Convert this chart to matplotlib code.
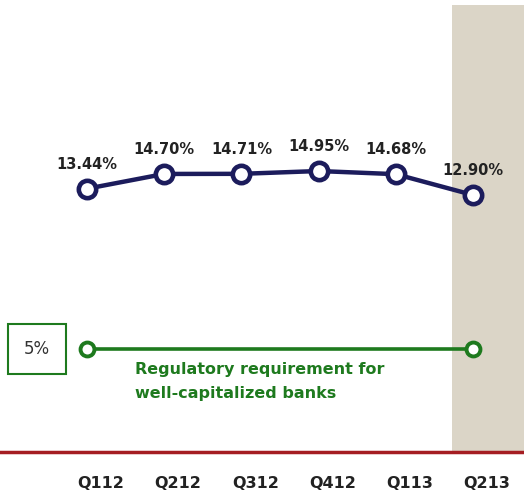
"""
Tier 1 capital ratio by quarter vs. regulatory requirement.
"""

import matplotlib
matplotlib.use("Agg")
import matplotlib.pyplot as plt
import numpy as np

# Datos
trimestres = ["Q112", "Q212", "Q312", "Q412", "Q113", "Q213"]
ratio = [13.44, 14.70, 14.71, 14.95, 14.68, 12.90]
requisito = 5
texto_requisito = "Regulatory requirement for\nwell-capitalized banks"

# Colores
NAVY = "#1c1c5c"
VERDE = "#1e7a1e"
ROJO = "#a51d22"
BEIGE = "#dbd5c7"

x = np.arange(len(trimestres))

fig = plt.figure(figsize=(5.24, 4.96), dpi=100)
ax = fig.add_axes([0, 44 / 496, 1, 452 / 496])
ax.set_xlim(-1.127, 5.66)
ax.set_ylim(-9.07, 29.57)

# zona sombreada del ultimo trimestre
ax.axvspan(4.73, 5.66, ymin=0, ymax=0.989, color=BEIGE, zorder=0, lw=0)

# serie principal
ax.plot(x, ratio, color=NAVY, lw=3.2, marker='o', markersize=12.5,
        markerfacecolor='white', markeredgecolor=NAVY, markeredgewidth=3.3,
        zorder=3)
for xi, v in zip(x, ratio):
    ax.annotate(f"{v:.2f}%", (xi, v), xytext=(0, 17.5), textcoords='offset points',
                ha='center', va='center', fontsize=10.5, fontweight='bold',
                color='#222222')

# eje secundario para el requisito regulatorio
ax2 = ax.twinx()
ax2.set_ylim(0, 21.9)
ax2.plot([x[0], x[-1]], [requisito, requisito], color=VERDE, lw=2.6,
         marker='o', markersize=10, markerfacecolor='white',
         markeredgecolor=VERDE, markeredgewidth=2.8, zorder=3)
ax2.text(-0.65, requisito, f"{requisito}%", ha='center', va='center',
         fontsize=12, color='#333333',
         bbox=dict(boxstyle='square,pad=0.95', facecolor='white',
                   edgecolor=VERDE, linewidth=1.5))
ax2.annotate(texto_requisito, (0.62, requisito), xytext=(0, -9.5),
             textcoords='offset points', ha='left', va='top',
             fontsize=11.5, fontweight='bold', color=VERDE, linespacing=1.75)

# ejes
for a in (ax, ax2):
    for s in ["top", "left", "right"]:
        a.spines[s].set_visible(False)
    a.set_yticks([])
ax2.spines["bottom"].set_visible(False)
ax.spines["bottom"].set_color(ROJO)
ax.spines["bottom"].set_linewidth(2.5)
ax.set_xticks(x + 0.18)
ax.set_xticklabels(trimestres, fontsize=11.5, fontweight='bold', color='#222222')
ax.tick_params(axis='x', length=0, pad=17)

plt.savefig("out.png", dpi=100)
